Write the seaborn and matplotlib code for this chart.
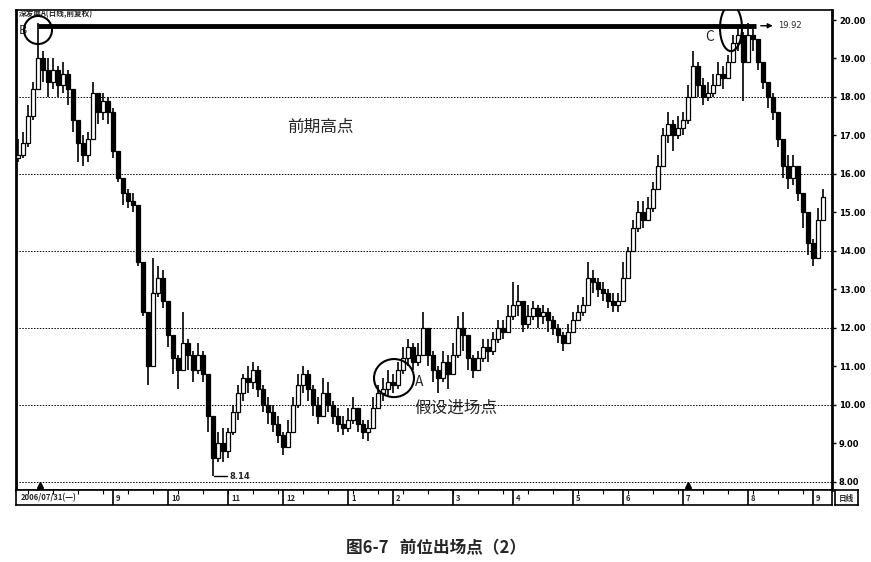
import matplotlib
matplotlib.use("Agg")
import matplotlib.pyplot as plt
import seaborn as sns
import numpy as np
from matplotlib.patches import Ellipse

# daily bars (roughly every 2 trading days)
close = [16.5, 16.8, 17.5, 18.2, 19.0, 18.7, 18.4, 18.7, 18.3, 18.6,
         18.2, 17.4, 16.8, 16.5, 16.9, 18.1, 17.6, 17.9, 17.6, 16.6,
         15.9, 15.5, 15.3, 15.2, 13.7, 12.4, 11.0, 12.9, 13.3, 12.7,
         11.8, 11.2, 10.9, 11.6, 11.3, 10.9, 11.3, 10.8, 9.7, 8.6,
         9.0, 8.8, 9.3, 9.8, 10.3, 10.7, 10.6, 10.9, 10.4, 10.0,
         9.8, 9.5, 9.2, 8.9, 9.3, 10.0, 10.5, 10.8, 10.4, 10.0,
         9.7, 10.3, 10.0, 9.7, 9.5, 9.4, 9.6, 9.9, 9.5, 9.3,
         9.4, 9.9, 10.3, 10.4, 10.6, 10.5, 10.9, 11.2, 11.5, 11.1,
         11.3, 12.0, 11.3, 10.9, 10.7, 11.1, 10.8, 11.3, 12.0, 11.8,
         11.2, 10.9, 11.2, 11.5, 11.4, 11.7, 12.0, 11.9, 12.3, 12.6,
         12.7, 12.1, 12.3, 12.5, 12.3, 12.4, 12.2, 12.0, 11.8, 11.6,
         11.9, 12.2, 12.4, 12.6, 13.3, 13.2, 13.0, 12.9, 12.7, 12.6,
         12.7, 13.3, 14.0, 14.6, 15.0, 14.8, 15.1, 15.6, 16.2, 17.0,
         17.3, 17.0, 17.2, 17.4, 18.0, 18.8, 18.3, 18.0, 18.1, 18.3,
         18.6, 18.5, 18.9, 19.4, 19.6, 18.9, 19.6, 19.5, 18.9, 18.4,
         18.0, 17.6, 16.9, 16.2, 15.9, 16.2, 15.5, 15.0, 14.2, 13.8,
         14.8, 15.4]
high = [16.9, 17.1, 17.8, 18.4, 19.92, 19.2, 19.0, 19.0, 18.8, 18.9,
        18.7, 18.2, 17.4, 17.0, 17.1, 18.4, 18.1, 18.1, 18.0, 17.7,
        16.5, 15.9, 15.6, 15.5, 15.0, 12.9, 11.8, 13.8, 13.6, 13.5,
        12.6, 11.8, 11.3, 12.4, 11.7, 11.4, 11.6, 11.4, 10.5, 9.4,
        9.3, 9.4, 9.4, 10.0, 10.5, 10.8, 11.0, 11.1, 11.0, 10.5,
        10.2, 10.0, 9.7, 9.3, 9.6, 10.2, 10.8, 11.0, 10.9, 10.5,
        10.2, 10.7, 10.6, 10.1, 9.9, 9.7, 9.9, 10.2, 9.9, 9.6,
        9.6, 10.2, 10.5, 10.7, 10.9, 10.8, 11.1, 11.5, 11.7, 11.6,
        11.6, 12.4, 12.0, 11.4, 11.0, 11.4, 11.3, 11.6, 12.3, 12.4,
        11.8, 11.3, 11.4, 11.7, 11.7, 11.9, 12.2, 12.2, 12.6, 13.2,
        13.1, 12.7, 12.6, 12.7, 12.6, 12.6, 12.5, 12.3, 12.1, 11.9,
        12.1, 12.4, 12.6, 12.8, 13.7, 13.5, 13.3, 13.2, 13.0, 12.9,
        12.9, 13.7, 14.1, 14.8, 15.3, 15.3, 15.4, 15.8, 16.5, 17.2,
        17.6, 17.4, 17.5, 17.6, 18.3, 19.2, 18.9, 18.5, 18.4, 18.6,
        18.9, 18.8, 19.1, 19.6, 19.85, 19.7, 19.92, 19.8, 19.5, 18.9,
        18.4, 18.1, 17.5, 16.9, 16.5, 16.5, 16.1, 15.5, 14.9, 14.3,
        15.1, 15.6]
low = [16.3, 16.4, 16.7, 17.4, 18.2, 18.4, 18.0, 18.2, 18.0, 18.1,
       17.8, 17.1, 16.3, 16.2, 16.3, 16.9, 17.3, 17.4, 17.3, 16.4,
       15.8, 15.2, 15.1, 15.0, 13.6, 12.3, 10.5, 12.6, 12.8, 12.5,
       11.5, 10.8, 10.4, 11.0, 10.9, 10.6, 10.8, 10.6, 9.3, 8.14,
       8.5, 8.5, 8.6, 9.2, 9.6, 10.1, 10.3, 10.4, 10.2, 9.8,
       9.5, 9.3, 9.0, 8.7, 8.9, 9.4, 9.9, 10.3, 10.1, 9.7,
       9.5, 9.7, 9.8, 9.5, 9.3, 9.2, 9.3, 9.5, 9.3, 9.1,
       9.05, 9.4, 9.9, 10.1, 10.2, 10.3, 10.4, 10.8, 11.0, 10.9,
       11.0, 11.3, 11.0, 10.6, 10.3, 10.6, 10.4, 10.8, 11.2, 11.4,
       10.9, 10.7, 10.9, 11.1, 11.1, 11.3, 11.6, 11.7, 11.9, 12.2,
       12.3, 11.9, 12.0, 12.2, 12.0, 12.1, 11.9, 11.8, 11.6, 11.4,
       11.6, 11.9, 12.2, 12.3, 12.6, 12.9, 12.8, 12.7, 12.5, 12.4,
       12.4, 12.7, 13.3, 14.0, 14.5, 14.6, 14.8, 15.0, 15.8, 16.3,
       16.8, 16.6, 16.9, 17.0, 17.3, 18.0, 18.0, 17.8, 17.9, 18.0,
       18.3, 18.2, 18.5, 18.9, 19.2, 17.9, 19.0, 19.2, 18.7, 18.2,
       17.7, 17.4, 16.7, 15.9, 15.6, 15.7, 15.3, 14.6, 13.9, 13.6,
       13.8, 14.8]
first_open = 16.4

month_pos = [0, 19, 30, 42, 53, 66, 75, 87, 99, 111, 121, 133, 146, 159]
month_labels = ["2006/07/31(一)", "9", "10", "11", "12", "1", "2",
                "3", "4", "5", "6", "7", "8", "9"]
price_ticks = [8, 9, 10, 11, 12, 13, 14, 15, 16, 17, 18, 19, 20]
grid_levels = [8, 10, 12, 14, 16, 18]

sns.set_theme(style="white")
plt.rcParams['font.family'] = ['Noto Sans CJK SC', 'DejaVu Sans']

W, H = 871, 562
fig = plt.figure(figsize=(W / 100, H / 100), dpi=100)
ax = fig.add_axes([16 / W, (H - 490) / H, 816 / W, 480 / H])

n = len(close)
x = np.arange(n)
opens = np.array([first_open] + close[:-1])
closes = np.array(close)
up = closes >= opens

for lv in grid_levels:
    ax.axhline(lv, color="black", lw=0.7, ls=(0, (1.5, 1.5)), zorder=0)

ax.vlines(x, low, high, color="black", lw=1.2, zorder=2)
bottoms = np.minimum(opens, closes)
heights = np.maximum(np.abs(closes - opens), 0.04)
ax.bar(x[up], heights[up], bottom=bottoms[up], width=0.62,
       facecolor="white", edgecolor="black", lw=0.9, zorder=3)
ax.bar(x[~up], heights[~up], bottom=bottoms[~up], width=0.62,
       facecolor="black", edgecolor="black", lw=0.9, zorder=3)

ax.set_xlim(-0.4, 162.8)
ax.set_ylim(7.78, 20.26)
ax.set_xticks([])
ax.yaxis.tick_right()
ax.set_yticks(price_ticks)
ax.set_yticklabels([f"{t:.2f}" for t in price_ticks], fontsize=6,
                   fontweight="bold", family="DejaVu Sans")
ax.tick_params(axis="y", right=True, length=3, width=1, pad=2,
               colors="black")
for s in ax.spines.values():
    s.set_color("black")
    s.set_linewidth(1.2)
ax.spines["left"].set_linewidth(2)
ax.spines["right"].set_linewidth(2)

# previous high line B -> C
ax.plot([4, 147.5], [19.85, 19.85], color="black", lw=3.5, zorder=4,
        solid_capstyle="butt")
ax.annotate("", xy=(151.5, 19.85), xytext=(148, 19.85),
            arrowprops=dict(arrowstyle="-|>", color="black", lw=1,
                            mutation_scale=7))
ax.text(152, 19.85, "19.92", fontsize=6, va="center", family="DejaVu Sans")
ax.plot([39.2, 41.8], [8.14, 8.14], color="black", lw=1)
ax.text(42.2, 8.14, "8.14", fontsize=6, va="center", family="DejaVu Sans",
        fontweight="bold")

ax.add_patch(Ellipse((4, 19.74), 5.6, 0.73, fill=False, lw=1.5,
                     color="black", zorder=5))
ax.text(0.1, 19.74, "B", fontsize=9, va="center", ha="left")
ax.add_patch(Ellipse((142.6, 19.79), 4.4, 1.2, fill=False, lw=1.5,
                     color="black", zorder=5))
ax.text(137.5, 19.56, "C", fontsize=10, va="center", ha="left")
ax.add_patch(Ellipse((75.2, 10.69), 8.0, 0.99, fill=False, lw=1.5,
                     color="black", zorder=5))
ax.text(79.4, 10.58, "A", fontsize=10, va="center", ha="left")

ax.text(60.4, 17.22, "前期高点", fontsize=12, ha="center", va="center")
ax.text(79.2, 9.91, "假设进场点", fontsize=12, ha="left", va="center")
ax.text(0.2, 20.18, "深发展A(日线,前复权)", fontsize=5.5, ha="left",
        va="center", fontweight="bold")

ax.plot([4.4, 134], [7.9, 7.9], ls="none", marker="^", ms=4,
        color="black", zorder=5)

# date strip
dax = fig.add_axes([16 / W, (H - 505) / H, 816 / W, 15 / H])
dax.set_xlim(-0.4, 162.8)
dax.set_ylim(0, 1)
dax.set_xticks([])
dax.set_yticks([])
for s in dax.spines.values():
    s.set_color("black")
    s.set_linewidth(1.2)
dax.vlines(month_pos[1:], 0, 1, color="black", lw=1.2)
dax.vlines(np.arange(2, n, 5), 0.75, 1, color="black", lw=0.8)
for p, lab in zip(month_pos, month_labels):
    dax.text(p + 0.6, 0.45, lab, fontsize=5.5, va="center", ha="left",
             fontweight="bold")

rax = fig.add_axes([835 / W, (H - 505) / H, 23 / W, 15 / H])
rax.set_xticks([])
rax.set_yticks([])
for s in rax.spines.values():
    s.set_color("black")
    s.set_linewidth(1.2)
rax.text(0.5, 0.45, "日线", fontsize=5.5, ha="center", va="center",
         fontweight="bold", transform=rax.transAxes)

fig.text(0.5, (H - 548) / H, "图6-7   前位出场点（2）", fontsize=12,
         fontweight="bold", ha="center", va="center")

fig.savefig("out.png", dpi=100, facecolor="white")
